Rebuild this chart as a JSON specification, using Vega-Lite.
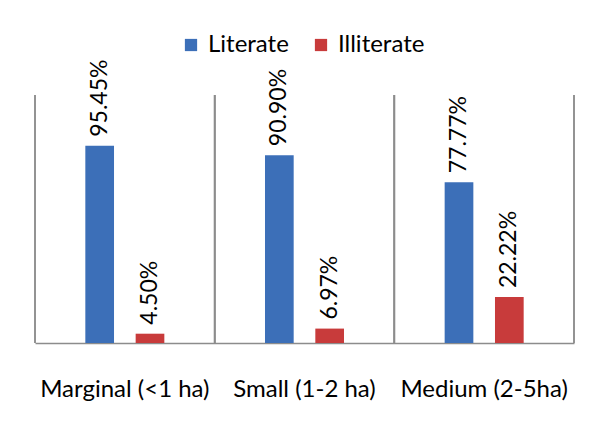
{
  "$schema": "https://vega.github.io/schema/vega-lite/v6.json",
  "width": 539,
  "height": 248,
  "autosize": "none",
  "padding": {"left": 35, "top": 95, "right": 23, "bottom": 86},
  "background": "white",
  "config": {
    "view": {"stroke": null},
    "font": "Lato",
    "text": {"font": "Lato"}
  },
  "data": {
    "values": [
      {"category": "Marginal (<1 ha)", "group": "Literate", "value": 95.45, "label": "95.45%"},
      {"category": "Marginal (<1 ha)", "group": "Illiterate", "value": 4.50, "label": "4.50%"},
      {"category": "Small (1-2 ha)", "group": "Literate", "value": 90.90, "label": "90.90%"},
      {"category": "Small (1-2 ha)", "group": "Illiterate", "value": 6.97, "label": "6.97%"},
      {"category": "Medium (2-5ha)", "group": "Literate", "value": 77.77, "label": "77.77%"},
      {"category": "Medium (2-5ha)", "group": "Illiterate", "value": 22.22, "label": "22.22%"}
    ]
  },
  "encoding": {
    "x": {
      "field": "category",
      "type": "nominal",
      "sort": ["Marginal (<1 ha)", "Small (1-2 ha)", "Medium (2-5ha)"],
      "scale": {"paddingInner": 0, "paddingOuter": 0},
      "axis": {
        "title": null,
        "labelAngle": 0,
        "labelFontSize": 24,
        "labelColor": "#000000",
        "labelPadding": 34,
        "ticks": false,
        "domain": true,
        "domainColor": "#8c8c8c",
        "domainWidth": 1.5,
        "grid": false
      }
    }
  },
  "layer": [
    {
      "mark": {"type": "rule", "color": "#8c8c8c", "strokeWidth": 1.5},
      "encoding": {
        "x": {"field": "category", "type": "nominal", "bandPosition": 0, "sort": ["Marginal (<1 ha)", "Small (1-2 ha)", "Medium (2-5ha)"]}
      }
    },
    {
      "mark": {"type": "rule", "color": "#8c8c8c", "strokeWidth": 1.5},
      "encoding": {
        "x": {"field": "category", "type": "nominal", "bandPosition": 1, "sort": ["Marginal (<1 ha)", "Small (1-2 ha)", "Medium (2-5ha)"]}
      }
    },
    {
      "mark": {"type": "bar"},
      "encoding": {
        "xOffset": {
          "field": "group",
          "type": "nominal",
          "sort": ["Literate", "Illiterate"],
          "scale": {"paddingInner": 0.43, "paddingOuter": 1.19}
        },
        "y": {
          "field": "value",
          "type": "quantitative",
          "scale": {"domain": [0, 120]},
          "axis": null
        },
        "color": {
          "field": "group",
          "type": "nominal",
          "sort": ["Literate", "Illiterate"],
          "scale": {"domain": ["Literate", "Illiterate"], "range": ["#3C6FB8", "#C83B3B"]},
          "legend": {
            "title": null,
            "orient": "none",
            "direction": "horizontal",
            "legendX": 144,
            "legendY": -62,
            "symbolType": "square",
            "symbolSize": 150,
            "symbolStrokeWidth": 0,
            "labelFontSize": 24,
            "labelColor": "#000000",
            "labelOffset": 5,
            "columnPadding": 20
          }
        }
      }
    },
    {
      "mark": {"type": "text", "angle": 270, "align": "left", "baseline": "middle", "dx": 9, "fontSize": 23, "color": "#000000"},
      "encoding": {
        "xOffset": {
          "field": "group",
          "type": "nominal",
          "sort": ["Literate", "Illiterate"],
          "scale": {"paddingInner": 0.43, "paddingOuter": 1.19}
        },
        "y": {"field": "value", "type": "quantitative"},
        "text": {"field": "label"}
      }
    }
  ]
}
